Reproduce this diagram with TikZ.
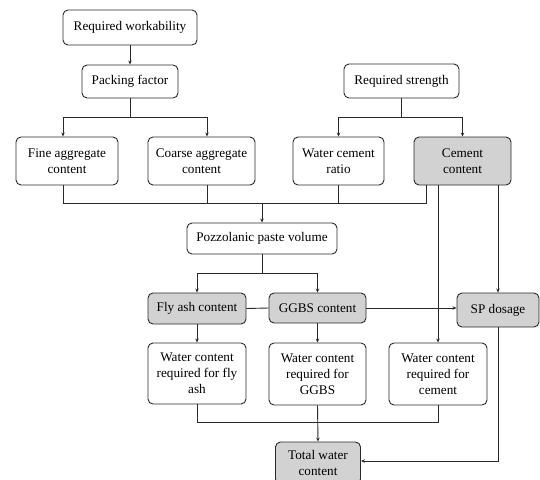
\documentclass[tikz,border=0pt]{standalone}
\usepackage{fontspec}
\setmainfont{Liberation Serif}
\usetikzlibrary{arrows.meta,calc}
\definecolor{linec}{HTML}{2A2A2A}
\definecolor{boxgray}{HTML}{D2D2D2}
\begin{document}
\begin{tikzpicture}[x=1pt,y=-1pt,
  box/.style={draw=linec,rounded corners=5pt,line width=0.9pt,align=center,inner sep=0pt,
    font=\fontsize{13.2}{16}\selectfont,fill=white},
  gbox/.style={box,fill=boxgray},
  conn/.style={draw=linec,line width=0.9pt},
  arr/.style={conn,-{Stealth[length=4pt,width=3.5pt]}}]
\useasboundingbox (0,0) rectangle (540,479);
% nodes
\node[box,minimum width=134pt,minimum height=35pt] (rw) at (130,27.5) {Required workability};
\node[box,minimum width=96pt,minimum height=33pt] (pf) at (130,81.5) {Packing factor};
\node[box,minimum width=102pt,minimum height=48pt] (fa) at (67,161) {Fine aggregate\\content};
\node[box,minimum width=107pt,minimum height=48pt] (ca) at (201.5,161) {Coarse aggregate\\content};
\node[box,minimum width=115pt,minimum height=34pt] (rs) at (401.5,81) {Required strength};
\node[box,minimum width=91pt,minimum height=48pt] (wc) at (338.5,161) {Water cement\\ratio};
\node[gbox,minimum width=97pt,minimum height=48pt] (cc) at (462.5,161) {Cement\\content};
\node[box,minimum width=150pt,minimum height=31pt] (pp) at (262,238.5) {Pozzolanic paste volume};
\node[gbox,minimum width=98pt,minimum height=31pt] (fly) at (197,308.5) {Fly ash content};
\node[gbox,minimum width=97pt,minimum height=30pt] (gg) at (317.5,308) {GGBS content};
\node[gbox,minimum width=82pt,minimum height=34pt] (sp) at (498,310) {SP dosage};
\node[box,minimum width=98pt,minimum height=61pt] (wfa) at (197,373.5) {Water content\\required for fly\\ash};
\node[box,minimum width=97pt,minimum height=62pt] (wgg) at (317.5,374) {Water content\\required for\\GGBS};
\node[box,minimum width=98pt,minimum height=62pt] (wce) at (438,374) {Water content\\required for\\cement};
\node[gbox,minimum width=85pt,minimum height=42pt] (tw) at (318,463) {Total water\\content};
% helper coordinates
\coordinate (r1) at (0,117);
\coordinate (r2) at (0,203);
\coordinate (r3) at (0,273);
\coordinate (r4) at (0,422);
\coordinate (r5) at (0,461);
\coordinate (faT) at ([xshift=-4pt]fa.north);
\coordinate (faB) at ([xshift=-4pt]fa.south);
\coordinate (caT) at ([xshift=5.5pt]ca.north);
\coordinate (caB) at ([xshift=5.5pt]ca.south);
\coordinate (ccB) at ([xshift=-36.5pt]cc.south);
% connectors
\draw[arr] (rw) -- (pf);
\draw[conn] (pf.south) -- (pf.south |- r1);
\draw[arr] (pf.south |- r1) -| (faT);
\draw[arr] (pf.south |- r1) -| (caT);
\draw[conn] (rs.south) -- (rs.south |- r1);
\draw[arr] (rs.south |- r1) -| (wc.north);
\draw[arr] (rs.south |- r1) -| (cc.north);
\draw[conn] (faB) -- (faB |- r2) -- (ccB |- r2) -- (ccB);
\draw[conn] (caB) -- (caB |- r2);
\draw[conn] (wc.south) -- (wc.south |- r2);
\draw[arr] (pp.north |- r2) -- (pp.north);
\draw[arr] (wce.north |- cc.south) -- (wce.north);
\draw[arr] (sp.north |- cc.south) -- (sp.north);
\draw[conn] (pp.south) -- (pp.south |- r3);
\draw[arr] (pp.south |- r3) -| (fly.north);
\draw[arr] (pp.south |- r3) -| (gg.north);
\draw[conn] (fly.east) -- (gg.west);
\draw[arr] (gg.east) -- (sp.west |- gg.east);
\draw[arr] (fly) -- (wfa);
\draw[arr] (gg) -- (wgg);
\draw[conn] (wfa.south) -- (wfa.south |- r4) -- (wce.south |- r4) -- (wce.south);
\draw[arr] (wgg.south) -- (tw.north);
\draw[arr] (sp.south) -- (sp.south |- r5) -- (tw.east |- r5);
\end{tikzpicture}
\end{document}
